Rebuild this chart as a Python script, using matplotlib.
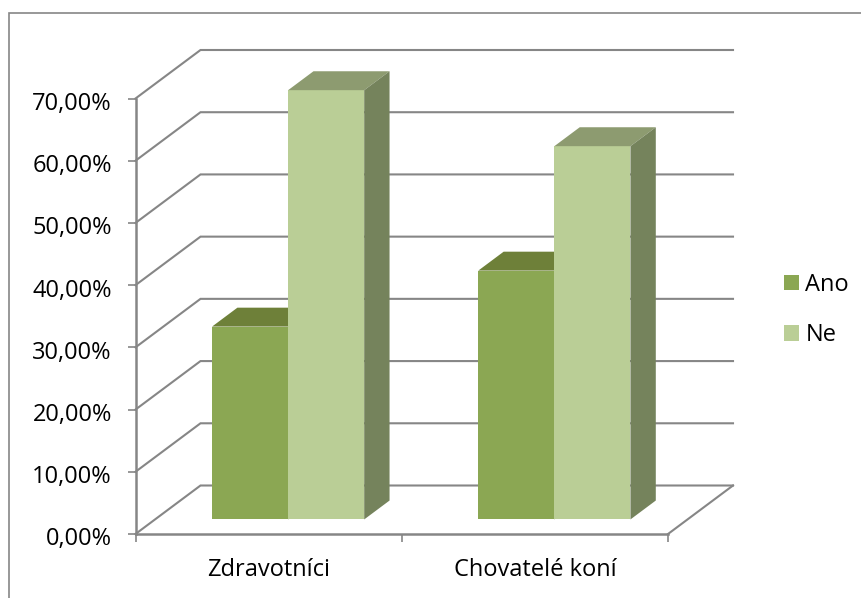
#!/usr/bin/env python3
"""Clustered column chart drawn with an oblique 3D look on plain 2D axes."""

import matplotlib
matplotlib.use("Agg")
import matplotlib.pyplot as plt
from matplotlib.lines import Line2D
from matplotlib.patches import Polygon, Rectangle
from matplotlib.transforms import ScaledTranslation

categories = ["Zdravotníci", "Chovatelé koní"]
series_names = ["Ano", "Ne"]
ano_values = [0.31, 0.40]
ne_values = [0.69, 0.60]
y_ticks = [0.0, 0.1, 0.2, 0.3, 0.4, 0.5, 0.6, 0.7]

W, H = 861, 598
GRID = "#868686"
FONT_SIZE = 17

# front colour, top colour, side colour
ANO_COLORS = ("#8BA753", "#6E8039", "#64753A")
NE_COLORS = ("#BACE96", "#8D9B70", "#75835C")

# depth of the floor, in data units
DEPTH_X = 65 / 266.25
DEPTH_Y = 48.5 / 435.5 * 0.7
# bars stand between these fractions of the floor depth
BAR_FRONT = 0.30
BAR_BACK = 0.69
BAR_WIDTH = 1 / 3.5

plt.rcParams["font.family"] = ["Open Sans", "DejaVu Sans"]

fig = plt.figure(figsize=(W / 100, H / 100), dpi=100)
fig.patch.set_facecolor("white")

# chart border, only the left and top edges are visible
fig.add_artist(Line2D([9 / W, 9 / W, 1], [0, 1 - 13 / H, 1 - 13 / H],
                      transform=fig.transFigure, color=GRID, linewidth=1.2,
                      solid_joinstyle="miter"))

ax = fig.add_axes([135.5 / W, 1 - 534 / H, 532.5 / W, 435.5 / H])
ax.set_xlim(0, 2)
ax.set_ylim(0, 0.7)
ax.patch.set_visible(False)


def pt(x, y, d):
    """Project a point at floor depth d (0 front, 1 back) to data coordinates."""
    return (x + d * DEPTH_X, y + d * DEPTH_Y)


# wall gridlines running back from the axis and across the back wall
for t in y_ticks:
    ax.plot([pt(0, t, 0)[0], pt(0, t, 1)[0], pt(2, t, 1)[0]],
            [pt(0, t, 0)[1], pt(0, t, 1)[1], pt(2, t, 1)[1]],
            color=GRID, linewidth=1.5, clip_on=False, zorder=1,
            solid_joinstyle="miter")

# right edge of the floor
ax.plot([pt(2, 0, 0)[0], pt(2, 0, 1)[0]], [pt(2, 0, 0)[1], pt(2, 0, 1)[1]],
        color=GRID, linewidth=1.5, clip_on=False, zorder=1)


def draw_bar(x, value, colors, z):
    front, top, side = colors
    x2 = x + BAR_WIDTH
    f, b = BAR_FRONT, BAR_BACK
    faces = [
        ([pt(x, 0, f), pt(x2, 0, f), pt(x2, value, f), pt(x, value, f)], front),
        ([pt(x, value, f), pt(x2, value, f), pt(x2, value, b), pt(x, value, b)], top),
        ([pt(x2, 0, f), pt(x2, 0, b), pt(x2, value, b), pt(x2, value, f)], side),
    ]
    for verts, color in faces:
        ax.add_patch(Polygon(verts, closed=True, facecolor=color, edgecolor="none",
                             clip_on=False, zorder=z))


for i in range(len(categories)):
    left = i + 0.75 / 3.5
    draw_bar(left, ano_values[i], ANO_COLORS, 3)
    draw_bar(left + BAR_WIDTH, ne_values[i], NE_COLORS, 4)

for s in ["top", "right"]:
    ax.spines[s].set_visible(False)
for s in ["left", "bottom"]:
    ax.spines[s].set_color(GRID)
    ax.spines[s].set_linewidth(1.8)
    ax.spines[s].set_zorder(2)

ax.set_yticks(y_ticks)
ax.set_yticklabels([f"{t * 100:.2f}%".replace(".", ",") for t in y_ticks])
ax.set_xticks([0, 1, 2])
ax.set_xticklabels([])
ax.set_xticks([0.5, 1.5], minor=True)
ax.set_xticklabels(categories, minor=True)
ax.tick_params(axis="x", which="major", length=5.5, width=1.2, color=GRID)
ax.tick_params(axis="x", which="minor", length=0, pad=17, labelsize=FONT_SIZE, labelcolor="black")
ax.tick_params(axis="y", length=6, width=1.2, color=GRID, pad=11, labelsize=FONT_SIZE, labelcolor="black")

# nudge the value labels down a little so the digits sit on their ticks
nudge = ScaledTranslation(0, -2.5 / 100, fig.dpi_scale_trans)
for label in ax.get_yticklabels():
    label.set_transform(label.get_transform() + nudge)

handles = [Rectangle((0, 0), 1, 1, facecolor=ANO_COLORS[0], edgecolor="none"),
           Rectangle((0, 0), 1, 1, facecolor=NE_COLORS[0], edgecolor="none")]
fig.legend(handles, series_names, loc="center left",
           bbox_to_anchor=(784 / W, 1 - 310 / H), frameon=False, fontsize=FONT_SIZE,
           handlelength=0.635, handleheight=0.635, handletextpad=0.27,
           labelspacing=1.12, borderpad=0, borderaxespad=0)

fig.savefig("out.png", dpi=100)
